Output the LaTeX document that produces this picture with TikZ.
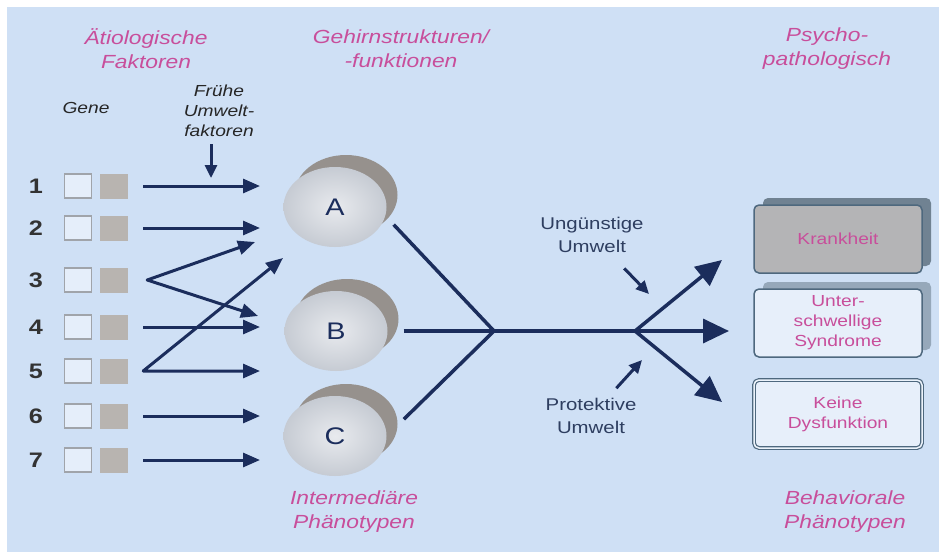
\documentclass[tikz,border=0pt]{standalone}
\usepackage{fontspec}
\setmainfont[FakeStretch=1.2]{Liberation Sans}
\usepackage{tikz}
\usetikzlibrary{arrows.meta,shapes.geometric,shadows}
\definecolor{bgblue}{RGB}{207,224,245}
\definecolor{navy}{RGB}{27,45,92}
\definecolor{headpink}{RGB}{200,78,155}
\definecolor{discin}{RGB}{232,234,238}
\definecolor{discout}{RGB}{198,203,211}
\definecolor{discdark}{RGB}{150,145,141}
\definecolor{boxgray}{RGB}{180,180,182}
\definecolor{boxline}{RGB}{78,104,126}
\definecolor{boxshade}{RGB}{112,130,146}
\definecolor{genegray}{RGB}{184,180,176}
\definecolor{geneline}{RGB}{160,164,170}
\definecolor{envtext}{RGB}{46,62,96}

\begin{document}
\begin{tikzpicture}[x=1pt,y=1pt,->,>={Triangle[length=17pt,width=14pt]},
		head/.style={text=headpink,font=\fontsize{19}{24}\selectfont\itshape,align=center,inner sep=1pt},
		note/.style={text=black!85,font=\fontsize{16}{20}\selectfont\itshape,align=center,inner sep=1pt},
		env/.style={text=envtext,font=\fontsize{17}{23}\selectfont,align=center,inner sep=1pt},
		num/.style={text=black!80,font=\fontsize{21}{24}\selectfont\bfseries},
		gene/.style={draw=geneline,line width=1.2pt,fill=bgblue!55!white,minimum width=27pt,minimum height=24pt,inner sep=0pt},
		genedark/.style={fill=genegray,minimum width=28pt,minimum height=25pt,inner sep=0pt},
		disc/.style={ellipse,shade,inner color=discin,outer color=discout,minimum width=103pt,minimum height=80pt,inner sep=0pt,
			text=navy,font=\fontsize{24}{24}\selectfont,general shadow={fill=discdark,shadow xshift=11pt,shadow yshift=12pt}},
		pheno/.style={rounded corners=5pt,draw=boxline,line width=1.5pt,minimum width=168pt,minimum height=68pt,
			align=center,text=headpink,font=\fontsize{16}{20}\selectfont},
		gen/.style={draw=navy,line width=3pt,line join=round},
		main/.style={-,draw=navy,line width=3.5pt},
		big/.style={draw=navy,line width=3.5pt,-{Triangle[length=26pt,width=24pt]}},
		envarrow/.style={draw=navy,line width=3pt,-{Triangle[length=13pt,width=12pt]}}]
		\useasboundingbox (0,0) rectangle (939,-552);
		\fill[bgblue] (7,-7) rectangle (939,-552);
		\node (aetio) [head] at (146,-49) {Ätiologische\\Faktoren};
		\node (gehirn) [head] at (401,-49) {Gehirnstrukturen/\\-funktionen};
		\node (psycho) [head] at (827,-49) {Psycho-\\pathologisch};
		\node (inter) [head] at (354,-512) {Intermediäre\\Phänotypen};
		\node (behav) [head] at (845,-512) {Behaviorale\\Phänotypen};
		\node (gene) [note] at (86,-108) {Gene};
		\node (fruehe) [note] at (219,-111) {Frühe\\Umwelt-\\faktoren};
		\node (n1) [num] at (36,-186) {1};
		\node (n2) [num] at (36,-228) {2};
		\node (n3) [num] at (36,-280) {3};
		\node (n4) [num] at (36,-327) {4};
		\node (n5) [num] at (36,-371) {5};
		\node (n6) [num] at (36,-416) {6};
		\node (n7) [num] at (36,-460) {7};
		\node (g1a) [gene, node distance=42pt, right of=n1] {};
		\node (g1b) [genedark, node distance=36pt, right of=g1a] {};
		\node (g2a) [gene, node distance=42pt, right of=n2] {};
		\node (g2b) [genedark, node distance=36pt, right of=g2a] {};
		\node (g3a) [gene, node distance=42pt, right of=n3] {};
		\node (g3b) [genedark, node distance=36pt, right of=g3a] {};
		\node (g4a) [gene, node distance=42pt, right of=n4] {};
		\node (g4b) [genedark, node distance=36pt, right of=g4a] {};
		\node (g5a) [gene, node distance=42pt, right of=n5] {};
		\node (g5b) [genedark, node distance=36pt, right of=g5a] {};
		\node (g6a) [gene, node distance=42pt, right of=n6] {};
		\node (g6b) [genedark, node distance=36pt, right of=g6a] {};
		\node (g7a) [gene, node distance=42pt, right of=n7] {};
		\node (g7b) [genedark, node distance=36pt, right of=g7a] {};
		\node (A) [disc] at (335,-207) {A};
		\node (B) [disc] at (336,-331) {B};
		\node (C) [disc] at (335,-436) {C};
		\node (ungue) [env] at (592,-235) {Ungünstige\\Umwelt};
		\node (protekt) [env] at (591,-416) {Protektive\\Umwelt};
		\node (krank) [pheno,fill=boxgray,general shadow={fill=boxshade,shadow xshift=9pt,shadow yshift=7pt}] at (838,-239) {Krankheit};
		\node (unter) [pheno,fill=bgblue!50!white,general shadow={fill=boxshade!60!bgblue,shadow xshift=9pt,shadow yshift=7pt}] at (838,-323) {Unter-\\schwellige\\Syndrome};
		\node (keine) [pheno,fill=bgblue!50!white,double=bgblue!40!white,double distance=1.5pt,line width=1.2pt] at (838,-414) {Keine\\Dysfunktion};
		\coordinate (u1) at (211,-178);
		\coordinate (e1) at (260,-186);
		\coordinate (e2) at (260,-228);
		\coordinate (e3a) at (255,-242);
		\coordinate (e3b) at (258,-316);
		\coordinate (e4) at (260,-327);
		\coordinate (e5a) at (283,-258);
		\coordinate (e5b) at (260,-371);
		\coordinate (e6) at (260,-416);
		\coordinate (e7) at (260,-460);
		\coordinate (J) at (494,-331);
		\coordinate (F) at (635,-331);
		\coordinate (t1) at (722,-260);
		\coordinate (t2) at (729,-331);
		\coordinate (t3) at (722,-402);
		\coordinate (u2) at (649,-294);
		\coordinate (u3) at (642,-360);
		\draw[envarrow,shorten <=6pt] (fruehe.south -| u1) -- (u1);
		\draw[gen,shorten <=15pt] (g1b) -- (e1);
		\draw[gen,shorten <=15pt] (g2b) -- (e2);
		\draw[gen,<->] (e3a) -- ([xshift=19pt]g3b.east) -- (e3b);
		\draw[gen,shorten <=15pt] (g4b) -- (e4);
		\draw[gen,<->] (e5a) -- ([xshift=15pt]g5b.east) -- (e5b);
		\draw[gen,shorten <=15pt] (g6b) -- (e6);
		\draw[gen,shorten <=15pt] (g7b) -- (e7);
		\draw[main,shorten <=12pt] (A.-10) -- (J);
		\draw[main,shorten <=24pt] (C.0) -- (J);
		\draw[main,shorten <=16pt] (B) -- (F);
		\draw[big] (F) -- (t1);
		\draw[big] (F) -- (t2);
		\draw[big] (F) -- (t3);
		\draw[envarrow,shorten <=20pt] (ungue) -- (u2);
		\draw[envarrow,shorten <=12pt] (protekt) -- (u3);
\end{tikzpicture}
\end{document}
